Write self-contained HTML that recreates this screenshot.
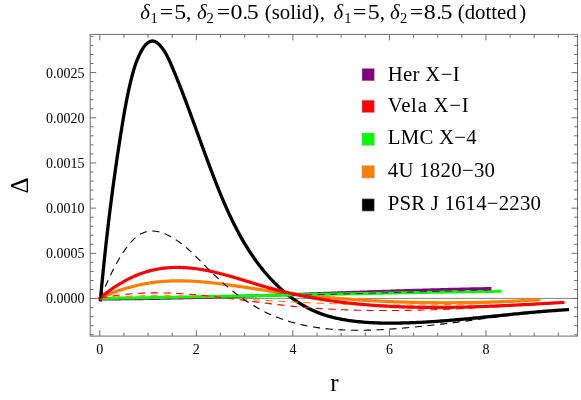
<!DOCTYPE html>
<html><head><meta charset="utf-8"><title>plot</title>
<style>html,body{margin:0;padding:0;background:#fff}svg{display:block;will-change:transform}</style></head>
<body>
<svg width="581" height="400" viewBox="0 0 581 400">
<rect width="581" height="400" fill="#fff"/>
<line x1="90.2" y1="298.4" x2="577.5" y2="298.4" stroke="#5a5a5a" stroke-width="0.75"/>
<path d="M100.30 301.40 L100.48 299.41 L100.66 297.41 L100.84 295.42 L101.03 293.43 L101.21 291.44 L101.40 289.44 L101.58 287.45 L101.77 285.46 L101.96 283.47 L102.15 281.48 L102.35 279.48 L102.54 277.49 L102.74 275.50 L102.93 273.51 L103.13 271.52 L103.33 269.53 L103.54 267.54 L103.74 265.55 L103.94 263.56 L104.15 261.57 L104.36 259.58 L104.57 257.59 L104.78 255.60 L104.99 253.61 L105.20 251.62 L105.42 249.63 L105.64 247.64 L105.85 245.65 L106.07 243.66 L106.29 241.67 L106.52 239.68 L106.74 237.69 L106.97 235.71 L107.20 233.72 L107.42 231.73 L107.66 229.74 L107.89 227.76 L108.12 225.77 L108.36 223.78 L108.59 221.79 L108.83 219.81 L109.07 217.82 L109.31 215.83 L109.56 213.85 L109.80 211.86 L110.05 209.88 L110.30 207.89 L110.55 205.91 L110.80 203.92 L111.05 201.94 L111.31 199.95 L111.57 197.97 L111.82 195.98 L112.08 194.00 L112.35 192.01 L112.61 190.03 L112.87 188.05 L113.14 186.06 L113.41 184.08 L113.68 182.10 L113.95 180.12 L114.22 178.13 L114.50 176.15 L114.78 174.17 L115.06 172.19 L115.34 170.21 L115.62 168.23 L115.90 166.25 L116.19 164.27 L116.48 162.28 L116.77 160.30 L117.06 158.33 L117.35 156.35 L117.64 154.37 L117.94 152.39 L118.24 150.41 L118.54 148.43 L118.84 146.45 L119.14 144.47 L119.45 142.50 L119.76 140.52 L120.06 138.54 L120.37 136.57 L120.69 134.59 L121.00 132.61 L121.32 130.64 L121.64 128.66 L121.96 126.69 L122.28 124.71 L122.60 122.74 L122.93 120.76 L123.26 118.79 L123.59 116.82 L123.93 114.84 L124.27 112.87 L124.62 110.90 L124.97 108.93 L125.33 106.96 L125.70 105.00 L126.07 103.03 L126.44 101.06 L126.83 99.10 L127.22 97.14 L127.62 95.18 L128.03 93.22 L128.44 91.26 L128.87 89.31 L129.31 87.35 L129.75 85.40 L130.21 83.45 L130.67 81.51 L131.15 79.56 L131.64 77.62 L132.14 75.69 L132.66 73.76 L133.20 71.83 L133.76 69.91 L134.34 67.99 L134.96 66.09 L135.60 64.19 L136.28 62.31 L136.99 60.44 L137.74 58.59 L138.53 56.75 L139.37 54.93 L140.24 53.13 L141.16 51.35 L142.14 49.61 L143.18 47.90 L144.34 46.27 L145.63 44.74 L147.08 43.36 L148.70 42.19 L150.49 41.31 L152.45 40.95 L154.42 41.28 L156.22 42.14 L157.82 43.33 L159.27 44.71 L160.63 46.18 L161.91 47.72 L163.11 49.32 L164.24 50.97 L165.30 52.67 L166.29 54.41 L167.24 56.17 L168.13 57.96 L168.99 59.77 L169.81 61.59 L170.62 63.42 L171.41 65.26 L172.19 67.10 L172.97 68.95 L173.75 70.79 L174.52 72.64 L175.28 74.49 L176.04 76.34 L176.79 78.19 L177.54 80.05 L178.29 81.91 L179.03 83.76 L179.76 85.63 L180.49 87.49 L181.22 89.35 L181.95 91.22 L182.67 93.08 L183.39 94.95 L184.10 96.82 L184.81 98.69 L185.52 100.56 L186.22 102.44 L186.93 104.31 L187.62 106.18 L188.32 108.06 L189.02 109.94 L189.71 111.81 L190.40 113.69 L191.09 115.57 L191.78 117.45 L192.47 119.33 L193.15 121.21 L193.84 123.09 L194.52 124.97 L195.20 126.85 L195.88 128.73 L196.56 130.61 L197.24 132.49 L197.92 134.38 L198.61 136.26 L199.29 138.14 L199.97 140.02 L200.65 141.90 L201.33 143.78 L202.01 145.66 L202.70 147.55 L203.38 149.43 L204.07 151.30 L204.76 153.18 L205.45 155.06 L206.14 156.94 L206.83 158.82 L207.53 160.69 L208.22 162.57 L208.92 164.44 L209.62 166.32 L210.33 168.19 L211.03 170.06 L211.75 171.93 L212.46 173.80 L213.17 175.67 L213.89 177.54 L214.62 179.40 L215.35 181.27 L216.08 183.13 L216.81 184.99 L217.55 186.85 L218.30 188.71 L219.05 190.56 L219.80 192.42 L220.56 194.27 L221.33 196.12 L222.10 197.96 L222.88 199.81 L223.66 201.65 L224.46 203.48 L225.26 205.32 L226.06 207.15 L226.88 208.98 L227.70 210.80 L228.53 212.62 L229.37 214.44 L230.22 216.25 L231.08 218.06 L231.95 219.86 L232.82 221.66 L233.71 223.45 L234.61 225.24 L235.52 227.02 L236.43 228.80 L237.36 230.57 L238.31 232.34 L239.26 234.10 L240.22 235.85 L241.20 237.60 L242.19 239.34 L243.19 241.07 L244.20 242.80 L245.23 244.51 L246.27 246.22 L247.33 247.92 L248.39 249.62 L249.47 251.30 L250.57 252.97 L251.68 254.64 L252.81 256.29 L253.95 257.94 L255.10 259.57 L256.27 261.19 L257.46 262.81 L258.66 264.41 L259.87 266.00 L261.11 267.57 L262.35 269.14 L263.62 270.69 L264.90 272.23 L266.19 273.75 L267.51 275.26 L268.83 276.76 L270.18 278.24 L271.54 279.70 L272.92 281.15 L274.32 282.59 L275.73 284.01 L277.16 285.41 L278.61 286.79 L280.07 288.15 L281.55 289.50 L283.05 290.82 L284.57 292.13 L286.10 293.41 L287.66 294.67 L289.23 295.91 L290.81 297.13 L292.42 298.32 L294.04 299.49 L295.69 300.64 L297.34 301.76 L299.02 302.85 L300.72 303.91 L302.43 304.95 L304.16 305.96 L305.90 306.93 L307.66 307.88 L309.44 308.80 L311.24 309.68 L313.05 310.53 L314.88 311.35 L316.72 312.13 L318.58 312.88 L320.45 313.59 L322.33 314.26 L324.22 314.90 L326.13 315.51 L328.05 316.08 L329.97 316.63 L331.91 317.14 L333.85 317.62 L335.80 318.08 L337.75 318.51 L339.71 318.91 L341.68 319.29 L343.65 319.64 L345.62 319.97 L347.60 320.28 L349.58 320.57 L351.56 320.84 L353.55 321.10 L355.53 321.33 L357.52 321.55 L359.51 321.75 L361.50 321.94 L363.50 322.11 L365.49 322.27 L367.49 322.41 L369.49 322.54 L371.48 322.65 L373.48 322.75 L375.48 322.84 L377.48 322.92 L379.48 322.98 L381.48 323.03 L383.48 323.07 L385.48 323.10 L387.48 323.12 L389.48 323.14 L391.49 323.14 L393.49 323.13 L395.49 323.11 L397.49 323.09 L399.49 323.06 L401.49 323.02 L403.49 322.97 L405.49 322.92 L407.49 322.86 L409.49 322.80 L411.49 322.72 L413.49 322.65 L415.49 322.56 L417.49 322.47 L419.49 322.38 L421.48 322.28 L423.48 322.17 L425.48 322.06 L427.48 321.94 L429.48 321.82 L431.47 321.70 L433.47 321.56 L435.47 321.43 L437.46 321.29 L439.46 321.14 L441.45 321.00 L443.45 320.84 L445.44 320.69 L447.44 320.53 L449.43 320.37 L451.43 320.20 L453.42 320.03 L455.41 319.86 L457.41 319.68 L459.40 319.50 L461.39 319.32 L463.39 319.14 L465.38 318.95 L467.37 318.77 L469.36 318.58 L471.35 318.39 L473.35 318.19 L475.34 318.00 L477.33 317.80 L479.32 317.60 L481.31 317.40 L483.30 317.20 L485.29 317.00 L487.28 316.80 L489.27 316.60 L491.26 316.39 L493.26 316.19 L495.25 315.99 L497.24 315.78 L499.23 315.58 L501.22 315.38 L503.21 315.17 L505.20 314.97 L507.19 314.77 L509.18 314.57 L511.17 314.37 L513.16 314.17 L515.15 313.97 L517.15 313.77 L519.14 313.58 L521.13 313.38 L523.12 313.19 L525.11 313.00 L527.10 312.82 L529.10 312.63 L531.09 312.45 L533.08 312.27 L535.08 312.09 L537.07 311.91 L539.06 311.74 L541.06 311.57 L543.05 311.40 L545.04 311.24 L547.04 311.08 L549.03 310.93 L551.03 310.77 L553.02 310.63 L555.02 310.48 L557.02 310.34 L559.01 310.21 L561.01 310.08 L563.01 309.95 L565.00 309.83 L567.00 309.71 L569.00 309.60" fill="none" stroke="#000" stroke-width="3.3" stroke-linecap="butt" stroke-linejoin="round"/>
<path d="M100.00 298.20 L101.82 297.36 L103.64 296.55 L105.48 295.75 L107.32 294.97 L109.17 294.21 L111.03 293.47 L112.90 292.75 L114.77 292.05 L116.66 291.37 L118.54 290.71 L120.44 290.08 L122.34 289.46 L124.25 288.86 L126.17 288.28 L128.09 287.72 L130.02 287.19 L131.95 286.67 L133.89 286.18 L135.83 285.70 L137.78 285.25 L139.74 284.82 L141.70 284.41 L143.66 284.03 L145.63 283.66 L147.60 283.32 L149.57 283.00 L151.55 282.70 L153.53 282.42 L155.52 282.17 L157.51 281.94 L159.50 281.74 L161.49 281.55 L163.48 281.39 L165.48 281.25 L167.48 281.13 L169.48 281.03 L171.48 280.95 L173.48 280.89 L175.48 280.85 L177.48 280.83 L179.48 280.83 L181.48 280.84 L183.48 280.87 L185.48 280.92 L187.48 280.98 L189.48 281.06 L191.48 281.15 L193.48 281.26 L195.47 281.38 L197.47 281.51 L199.47 281.66 L201.46 281.82 L203.45 281.99 L205.45 282.17 L207.44 282.36 L209.43 282.56 L211.42 282.78 L213.41 283.00 L215.40 283.22 L217.38 283.46 L219.37 283.71 L221.35 283.96 L223.34 284.22 L225.32 284.48 L227.30 284.75 L229.29 285.02 L231.27 285.30 L233.25 285.58 L235.23 285.87 L237.21 286.16 L239.19 286.45 L241.17 286.74 L243.15 287.04 L245.13 287.33 L247.10 287.63 L249.08 287.93 L251.06 288.22 L253.04 288.52 L255.02 288.81 L257.00 289.11 L258.98 289.40 L260.96 289.69 L262.94 289.97 L264.92 290.25 L266.90 290.53 L268.88 290.80 L270.87 291.08 L272.85 291.34 L274.83 291.61 L276.82 291.87 L278.80 292.13 L280.79 292.39 L282.77 292.64 L284.76 292.89 L286.74 293.13 L288.73 293.38 L290.71 293.62 L292.70 293.85 L294.69 294.09 L296.68 294.32 L298.66 294.55 L300.65 294.77 L302.64 294.99 L304.63 295.21 L306.62 295.42 L308.61 295.64 L310.60 295.84 L312.59 296.05 L314.58 296.25 L316.57 296.45 L318.56 296.65 L320.55 296.84 L322.55 297.03 L324.54 297.21 L326.53 297.40 L328.52 297.58 L330.52 297.76 L332.51 297.93 L334.50 298.10 L336.50 298.27 L338.49 298.43 L340.49 298.59 L342.48 298.75 L344.48 298.91 L346.47 299.06 L348.47 299.21 L350.46 299.35 L352.46 299.50 L354.45 299.64 L356.45 299.77 L358.45 299.91 L360.44 300.04 L362.44 300.16 L364.44 300.29 L366.44 300.41 L368.43 300.53 L370.43 300.64 L372.43 300.76 L374.43 300.86 L376.42 300.97 L378.42 301.07 L380.42 301.17 L382.42 301.27 L384.42 301.36 L386.42 301.45 L388.42 301.54 L390.42 301.63 L392.41 301.71 L394.41 301.79 L396.41 301.86 L398.41 301.93 L400.41 302.00 L402.41 302.07 L404.41 302.13 L406.41 302.19 L408.41 302.25 L410.41 302.30 L412.41 302.35 L414.41 302.40 L416.41 302.45 L418.42 302.49 L420.42 302.53 L422.42 302.57 L424.42 302.60 L426.42 302.63 L428.42 302.66 L430.42 302.68 L432.42 302.70 L434.42 302.72 L436.42 302.74 L438.42 302.75 L440.42 302.76 L442.42 302.77 L444.43 302.77 L446.43 302.77 L448.43 302.77 L450.43 302.76 L452.43 302.76 L454.43 302.75 L456.43 302.73 L458.43 302.72 L460.43 302.70 L462.43 302.67 L464.43 302.65 L466.44 302.62 L468.44 302.59 L470.44 302.55 L472.44 302.52 L474.44 302.48 L476.44 302.44 L478.44 302.39 L480.44 302.34 L482.44 302.29 L484.44 302.24 L486.44 302.18 L488.44 302.12 L490.44 302.06 L492.44 301.99 L494.44 301.93 L496.44 301.85 L498.44 301.78 L500.44 301.70 L502.44 301.63 L504.44 301.54 L506.44 301.46 L508.44 301.37 L510.43 301.28 L512.43 301.19 L514.43 301.09 L516.43 300.99 L518.43 300.89 L520.43 300.79 L522.42 300.68 L524.42 300.57 L526.42 300.46 L528.42 300.34 L530.42 300.23 L532.41 300.11 L534.41 299.98 L536.41 299.86 L538.40 299.73 L540.40 299.60" fill="none" stroke="#ff8000" stroke-width="3.2" stroke-linecap="butt" stroke-linejoin="round"/>
<path d="M100.00 299.00 L102.01 298.99 L104.02 298.99 L106.02 298.98 L108.03 298.97 L110.04 298.96 L112.05 298.95 L114.06 298.93 L116.06 298.92 L118.07 298.90 L120.08 298.89 L122.09 298.87 L124.10 298.85 L126.10 298.83 L128.11 298.81 L130.12 298.79 L132.13 298.77 L134.13 298.74 L136.14 298.72 L138.15 298.69 L140.16 298.66 L142.17 298.64 L144.17 298.61 L146.18 298.58 L148.19 298.55 L150.20 298.52 L152.20 298.48 L154.21 298.45 L156.22 298.41 L158.23 298.38 L160.24 298.34 L162.24 298.31 L164.25 298.27 L166.26 298.23 L168.27 298.19 L170.27 298.15 L172.28 298.11 L174.29 298.06 L176.30 298.02 L178.30 297.98 L180.31 297.93 L182.32 297.89 L184.33 297.84 L186.33 297.79 L188.34 297.75 L190.35 297.70 L192.36 297.65 L194.36 297.60 L196.37 297.55 L198.38 297.50 L200.38 297.44 L202.39 297.39 L204.40 297.34 L206.41 297.28 L208.41 297.23 L210.42 297.18 L212.43 297.12 L214.44 297.06 L216.44 297.01 L218.45 296.95 L220.46 296.89 L222.46 296.83 L224.47 296.77 L226.48 296.71 L228.49 296.65 L230.49 296.59 L232.50 296.53 L234.51 296.47 L236.51 296.41 L238.52 296.34 L240.53 296.28 L242.53 296.22 L244.54 296.15 L246.55 296.09 L248.56 296.03 L250.56 295.96 L252.57 295.89 L254.58 295.83 L256.58 295.76 L258.59 295.70 L260.60 295.63 L262.60 295.56 L264.61 295.49 L266.62 295.43 L268.62 295.36 L270.63 295.29 L272.64 295.22 L274.64 295.15 L276.65 295.08 L278.66 295.01 L280.66 294.94 L282.67 294.87 L284.68 294.80 L286.68 294.73 L288.69 294.66 L290.70 294.59 L292.70 294.52 L294.71 294.45 L296.72 294.38 L298.72 294.31 L300.73 294.23 L302.74 294.16 L304.75 294.09 L306.75 294.02 L308.76 293.95 L310.77 293.87 L312.77 293.80 L314.78 293.73 L316.79 293.66 L318.79 293.59 L320.80 293.51 L322.81 293.44 L324.81 293.37 L326.82 293.30 L328.83 293.23 L330.83 293.15 L332.84 293.08 L334.85 293.01 L336.85 292.94 L338.86 292.87 L340.87 292.79 L342.87 292.72 L344.88 292.65 L346.89 292.58 L348.89 292.51 L350.90 292.44 L352.91 292.37 L354.91 292.30 L356.92 292.23 L358.93 292.16 L360.93 292.09 L362.94 292.02 L364.95 291.95 L366.95 291.88 L368.96 291.81 L370.97 291.74 L372.97 291.67 L374.98 291.60 L376.99 291.53 L378.99 291.47 L381.00 291.40 L383.01 291.33 L385.01 291.26 L387.02 291.20 L389.03 291.13 L391.04 291.07 L393.04 291.00 L395.05 290.94 L397.06 290.87 L399.06 290.81 L401.07 290.74 L403.08 290.68 L405.08 290.62 L407.09 290.56 L409.10 290.49 L411.10 290.43 L413.11 290.37 L415.12 290.31 L417.13 290.25 L419.13 290.19 L421.14 290.13 L423.15 290.07 L425.15 290.02 L427.16 289.96 L429.17 289.90 L431.18 289.85 L433.18 289.79 L435.19 289.74 L437.20 289.68 L439.21 289.63 L441.21 289.58 L443.22 289.53 L445.23 289.47 L447.23 289.42 L449.24 289.37 L451.25 289.32 L453.26 289.27 L455.26 289.23 L457.27 289.18 L459.28 289.13 L461.29 289.09 L463.29 289.04 L465.30 289.00 L467.31 288.96 L469.32 288.91 L471.32 288.87 L473.33 288.83 L475.34 288.79 L477.35 288.75 L479.35 288.71 L481.36 288.67 L483.37 288.64 L485.38 288.60 L487.38 288.57 L489.39 288.53 L491.40 288.50" fill="none" stroke="#800080" stroke-width="3.0" stroke-linecap="butt" stroke-linejoin="round"/>
<path d="M100.00 298.40 L102.01 298.37 L104.01 298.34 L106.02 298.31 L108.03 298.29 L110.04 298.26 L112.04 298.23 L114.05 298.20 L116.06 298.17 L118.06 298.14 L120.07 298.11 L122.08 298.07 L124.09 298.04 L126.09 298.01 L128.10 297.98 L130.11 297.95 L132.11 297.92 L134.12 297.89 L136.13 297.85 L138.13 297.82 L140.14 297.79 L142.15 297.75 L144.16 297.72 L146.16 297.69 L148.17 297.65 L150.18 297.62 L152.18 297.59 L154.19 297.55 L156.20 297.52 L158.21 297.48 L160.21 297.45 L162.22 297.41 L164.23 297.38 L166.23 297.34 L168.24 297.31 L170.25 297.27 L172.25 297.24 L174.26 297.20 L176.27 297.17 L178.28 297.13 L180.28 297.09 L182.29 297.06 L184.30 297.02 L186.30 296.98 L188.31 296.95 L190.32 296.91 L192.32 296.87 L194.33 296.84 L196.34 296.80 L198.34 296.76 L200.35 296.72 L202.36 296.69 L204.37 296.65 L206.37 296.61 L208.38 296.57 L210.39 296.53 L212.39 296.50 L214.40 296.46 L216.41 296.42 L218.41 296.38 L220.42 296.34 L222.43 296.30 L224.44 296.26 L226.44 296.23 L228.45 296.19 L230.46 296.15 L232.46 296.11 L234.47 296.07 L236.48 296.03 L238.48 295.99 L240.49 295.95 L242.50 295.91 L244.50 295.87 L246.51 295.83 L248.52 295.79 L250.53 295.75 L252.53 295.71 L254.54 295.67 L256.55 295.63 L258.55 295.59 L260.56 295.55 L262.57 295.51 L264.57 295.47 L266.58 295.43 L268.59 295.39 L270.59 295.35 L272.60 295.31 L274.61 295.27 L276.62 295.23 L278.62 295.19 L280.63 295.15 L282.64 295.11 L284.64 295.07 L286.65 295.03 L288.66 294.99 L290.66 294.95 L292.67 294.91 L294.68 294.87 L296.68 294.83 L298.69 294.79 L300.70 294.75 L302.71 294.71 L304.71 294.67 L306.72 294.63 L308.73 294.59 L310.73 294.55 L312.74 294.51 L314.75 294.47 L316.75 294.43 L318.76 294.39 L320.77 294.35 L322.77 294.31 L324.78 294.27 L326.79 294.23 L328.80 294.19 L330.80 294.15 L332.81 294.11 L334.82 294.07 L336.82 294.03 L338.83 294.00 L340.84 293.96 L342.84 293.92 L344.85 293.88 L346.86 293.84 L348.86 293.80 L350.87 293.76 L352.88 293.72 L354.89 293.68 L356.89 293.65 L358.90 293.61 L360.91 293.57 L362.91 293.53 L364.92 293.49 L366.93 293.45 L368.93 293.42 L370.94 293.38 L372.95 293.34 L374.96 293.30 L376.96 293.27 L378.97 293.23 L380.98 293.19 L382.98 293.15 L384.99 293.12 L387.00 293.08 L389.00 293.04 L391.01 293.01 L393.02 292.97 L395.02 292.93 L397.03 292.90 L399.04 292.86 L401.05 292.83 L403.05 292.79 L405.06 292.76 L407.07 292.72 L409.07 292.69 L411.08 292.65 L413.09 292.62 L415.09 292.58 L417.10 292.55 L419.11 292.51 L421.12 292.48 L423.12 292.45 L425.13 292.41 L427.14 292.38 L429.14 292.34 L431.15 292.31 L433.16 292.28 L435.17 292.25 L437.17 292.21 L439.18 292.18 L441.19 292.15 L443.19 292.12 L445.20 292.09 L447.21 292.05 L449.21 292.02 L451.22 291.99 L453.23 291.96 L455.24 291.93 L457.24 291.90 L459.25 291.87 L461.26 291.84 L463.26 291.81 L465.27 291.78 L467.28 291.75 L469.29 291.72 L471.29 291.70 L473.30 291.67 L475.31 291.64 L477.31 291.61 L479.32 291.58 L481.33 291.56 L483.34 291.53 L485.34 291.50 L487.35 291.48 L489.36 291.45 L491.36 291.43 L493.37 291.40 L495.38 291.37 L497.39 291.35 L499.39 291.32 L501.40 291.30" fill="none" stroke="#00ff00" stroke-width="3.0" stroke-linecap="butt" stroke-linejoin="round"/>
<path d="M100.00 298.20 L102.00 298.01 L103.99 297.84 L105.99 297.67 L107.99 297.51 L109.98 297.36 L111.98 297.21 L113.98 297.08 L115.98 296.95 L117.98 296.82 L119.98 296.71 L121.98 296.60 L123.98 296.50 L125.98 296.41 L127.99 296.32 L129.99 296.24 L131.99 296.16 L133.99 296.09 L136.00 296.03 L138.00 295.98 L140.00 295.93 L142.01 295.89 L144.01 295.85 L146.01 295.82 L148.02 295.79 L150.02 295.77 L152.02 295.76 L154.03 295.75 L156.03 295.74 L158.04 295.75 L160.04 295.75 L162.04 295.76 L164.05 295.78 L166.05 295.80 L168.05 295.83 L170.06 295.86 L172.06 295.89 L174.06 295.93 L176.07 295.97 L178.07 296.02 L180.07 296.07 L182.08 296.13 L184.08 296.18 L186.08 296.25 L188.09 296.31 L190.09 296.38 L192.09 296.46 L194.09 296.53 L196.10 296.61 L198.10 296.69 L200.10 296.78 L202.10 296.87 L204.10 296.96 L206.10 297.05 L208.11 297.14 L210.11 297.24 L212.11 297.34 L214.11 297.44 L216.11 297.55 L218.11 297.65 L220.11 297.76 L222.11 297.87 L224.11 297.98 L226.12 298.10 L228.12 298.21 L230.12 298.33 L232.12 298.44 L234.12 298.56 L236.12 298.68 L238.12 298.80 L240.12 298.92 L242.12 299.04 L244.12 299.16 L246.12 299.28 L248.12 299.40 L250.12 299.53 L252.12 299.65 L254.12 299.77 L256.12 299.89 L258.12 300.01 L260.12 300.14 L262.12 300.26 L264.12 300.38 L266.12 300.50 L268.12 300.62 L270.12 300.73 L272.12 300.85 L274.12 300.97 L276.12 301.08 L278.12 301.20 L280.12 301.31 L282.12 301.42 L284.12 301.53 L286.12 301.64 L288.13 301.74 L290.13 301.85 L292.13 301.95 L294.13 302.05 L296.13 302.15 L298.13 302.25 L300.13 302.35 L302.13 302.45 L304.14 302.54 L306.14 302.63 L308.14 302.73 L310.14 302.82 L312.14 302.90 L314.14 302.99 L316.15 303.08 L318.15 303.16 L320.15 303.24 L322.15 303.32 L324.15 303.40 L326.16 303.48 L328.16 303.55 L330.16 303.63 L332.16 303.70 L334.17 303.77 L336.17 303.84 L338.17 303.90 L340.18 303.97 L342.18 304.03 L344.18 304.09 L346.18 304.15 L348.19 304.21 L350.19 304.27 L352.19 304.32 L354.20 304.37 L356.20 304.42 L358.20 304.47 L360.21 304.52 L362.21 304.56 L364.21 304.61 L366.22 304.65 L368.22 304.69 L370.22 304.73 L372.23 304.76 L374.23 304.79 L376.23 304.83 L378.24 304.86 L380.24 304.88 L382.24 304.91 L384.25 304.93 L386.25 304.96 L388.25 304.98 L390.26 304.99 L392.26 305.01 L394.27 305.02 L396.27 305.03 L398.27 305.04 L400.28 305.05 L402.28 305.06 L404.28 305.06 L406.29 305.06 L408.29 305.06 L410.30 305.06 L412.30 305.05 L414.30 305.05 L416.31 305.04 L418.31 305.03 L420.31 305.01 L422.32 305.00 L424.32 304.98 L426.33 304.96 L428.33 304.94 L430.33 304.91 L432.34 304.88 L434.34 304.86 L436.34 304.82 L438.35 304.79 L440.35 304.75 L442.35 304.72 L444.36 304.67 L446.36 304.63 L448.36 304.59 L450.37 304.54 L452.37 304.49 L454.37 304.44 L456.38 304.38 L458.38 304.32 L460.38 304.27 L462.39 304.20 L464.39 304.14 L466.39 304.07 L468.39 304.00 L470.40 303.93 L472.40 303.86 L474.40 303.78 L476.40 303.70 L478.40 303.62 L480.41 303.54 L482.41 303.45 L484.41 303.36 L486.41 303.27 L488.41 303.17 L490.42 303.08 L492.42 302.98 L494.42 302.88 L496.42 302.77 L498.42 302.66 L500.42 302.55 L502.42 302.44 L504.42 302.33 L506.42 302.21 L508.42 302.09 L510.42 301.97 L512.42 301.84 L514.42 301.71 L516.42 301.58 L518.42 301.45 L520.42 301.31 L522.42 301.17 L524.42 301.03 L526.42 300.89 L528.41 300.74 L530.41 300.59 L532.41 300.44 L534.41 300.28 L536.41 300.12 L538.40 299.96 L540.40 299.80" fill="none" stroke="#ff8000" stroke-width="1.1" stroke-linecap="butt" stroke-linejoin="round" stroke-dasharray="7.2 5.55"/>
<path d="M292.00 295.20 L294.01 295.16 L296.03 295.12 L298.04 295.08 L300.06 295.03 L302.07 294.99 L304.09 294.95 L306.10 294.90 L308.12 294.86 L310.13 294.81 L312.14 294.77 L314.16 294.72 L316.17 294.67 L318.19 294.63 L320.20 294.58 L322.22 294.53 L324.23 294.48 L326.24 294.43 L328.26 294.38 L330.27 294.33 L332.29 294.28 L334.30 294.23 L336.31 294.17 L338.33 294.12 L340.34 294.07 L342.36 294.01 L344.37 293.96 L346.39 293.91 L348.40 293.85 L350.41 293.80 L352.43 293.74 L354.44 293.69 L356.46 293.63 L358.47 293.58 L360.48 293.52 L362.50 293.46 L364.51 293.41 L366.53 293.35 L368.54 293.29 L370.55 293.24 L372.57 293.18 L374.58 293.12 L376.60 293.06 L378.61 293.01 L380.62 292.95 L382.64 292.89 L384.65 292.83 L386.67 292.77 L388.68 292.72 L390.69 292.66 L392.71 292.60 L394.72 292.54 L396.74 292.48 L398.75 292.42 L400.76 292.37 L402.78 292.31 L404.79 292.25 L406.81 292.19 L408.82 292.13 L410.83 292.08 L412.85 292.02 L414.86 291.96 L416.88 291.90 L418.89 291.85 L420.90 291.79 L422.92 291.73 L424.93 291.67 L426.95 291.62 L428.96 291.56 L430.97 291.50 L432.99 291.45 L435.00 291.39 L437.02 291.34 L439.03 291.28 L441.04 291.23 L443.06 291.17 L445.07 291.12 L447.09 291.07 L449.10 291.01 L451.11 290.96 L453.13 290.91 L455.14 290.85 L457.16 290.80 L459.17 290.75 L461.19 290.70 L463.20 290.65 L465.21 290.60 L467.23 290.55 L469.24 290.50 L471.26 290.45 L473.27 290.41 L475.29 290.36 L477.30 290.31 L479.31 290.26 L481.33 290.22 L483.34 290.17 L485.36 290.13 L487.37 290.09 L489.39 290.04 L491.40 290.00" fill="none" stroke="#700070" stroke-width="1.0" stroke-linecap="butt" stroke-linejoin="round" stroke-dasharray="7.2 5.55"/>
<path d="M100.00 298.20 L101.53 296.91 L103.07 295.63 L104.63 294.37 L106.20 293.13 L107.79 291.92 L109.40 290.72 L111.02 289.55 L112.66 288.40 L114.32 287.28 L115.99 286.18 L117.68 285.10 L119.38 284.05 L121.10 283.02 L122.84 282.02 L124.59 281.05 L126.35 280.10 L128.13 279.18 L129.93 278.29 L131.74 277.43 L133.56 276.60 L135.39 275.80 L137.24 275.04 L139.11 274.30 L140.98 273.60 L142.87 272.94 L144.77 272.31 L146.69 271.71 L148.61 271.16 L150.54 270.64 L152.49 270.16 L154.44 269.72 L156.40 269.32 L158.37 268.96 L160.35 268.64 L162.33 268.36 L164.32 268.12 L166.31 267.91 L168.31 267.74 L170.31 267.61 L172.31 267.51 L174.31 267.45 L176.31 267.42 L178.31 267.43 L180.31 267.46 L182.32 267.53 L184.32 267.62 L186.31 267.74 L188.31 267.90 L190.31 268.07 L192.30 268.28 L194.29 268.51 L196.27 268.76 L198.26 269.04 L200.24 269.34 L202.21 269.67 L204.18 270.01 L206.15 270.38 L208.12 270.76 L210.08 271.17 L212.04 271.59 L213.99 272.03 L215.94 272.49 L217.89 272.96 L219.83 273.44 L221.77 273.94 L223.71 274.45 L225.64 274.98 L227.57 275.51 L229.50 276.05 L231.42 276.60 L233.34 277.16 L235.27 277.73 L237.18 278.30 L239.10 278.88 L241.02 279.46 L242.93 280.04 L244.85 280.63 L246.76 281.22 L248.68 281.81 L250.59 282.40 L252.50 282.98 L254.42 283.57 L256.33 284.15 L258.25 284.73 L260.17 285.31 L262.09 285.88 L264.01 286.44 L265.93 287.00 L267.86 287.55 L269.79 288.09 L271.72 288.62 L273.65 289.14 L275.59 289.66 L277.52 290.16 L279.46 290.66 L281.41 291.15 L283.35 291.63 L285.30 292.10 L287.25 292.56 L289.20 293.02 L291.15 293.46 L293.10 293.90 L295.06 294.33 L297.02 294.75 L298.98 295.16 L300.94 295.57 L302.90 295.97 L304.86 296.35 L306.83 296.74 L308.80 297.11 L310.77 297.47 L312.74 297.83 L314.71 298.18 L316.68 298.52 L318.66 298.86 L320.63 299.19 L322.61 299.50 L324.59 299.82 L326.56 300.12 L328.55 300.42 L330.53 300.71 L332.51 300.99 L334.49 301.27 L336.48 301.54 L338.46 301.80 L340.45 302.05 L342.44 302.30 L344.42 302.54 L346.41 302.78 L348.40 303.01 L350.39 303.23 L352.38 303.44 L354.37 303.65 L356.37 303.85 L358.36 304.05 L360.35 304.24 L362.35 304.42 L364.34 304.60 L366.34 304.77 L368.33 304.93 L370.33 305.09 L372.33 305.24 L374.32 305.39 L376.32 305.53 L378.32 305.67 L380.32 305.80 L382.32 305.92 L384.31 306.04 L386.31 306.15 L388.31 306.26 L390.31 306.36 L392.31 306.46 L394.31 306.55 L396.31 306.64 L398.32 306.72 L400.32 306.80 L402.32 306.87 L404.32 306.94 L406.32 307.00 L408.32 307.06 L410.32 307.11 L412.33 307.16 L414.33 307.21 L416.33 307.25 L418.33 307.28 L420.33 307.31 L422.34 307.34 L424.34 307.36 L426.34 307.38 L428.34 307.40 L430.35 307.41 L432.35 307.41 L434.35 307.42 L436.35 307.42 L438.36 307.41 L440.36 307.40 L442.36 307.39 L444.36 307.38 L446.37 307.36 L448.37 307.33 L450.37 307.31 L452.37 307.28 L454.38 307.25 L456.38 307.21 L458.38 307.17 L460.38 307.13 L462.38 307.09 L464.39 307.04 L466.39 306.99 L468.39 306.94 L470.39 306.88 L472.39 306.83 L474.39 306.76 L476.40 306.70 L478.40 306.64 L480.40 306.57 L482.40 306.50 L484.40 306.43 L486.40 306.35 L488.40 306.27 L490.40 306.19 L492.41 306.11 L494.41 306.03 L496.41 305.95 L498.41 305.86 L500.41 305.77 L502.41 305.68 L504.41 305.59 L506.41 305.50 L508.41 305.40 L510.41 305.31 L512.41 305.21 L514.41 305.11 L516.41 305.01 L518.41 304.91 L520.41 304.81 L522.41 304.70 L524.41 304.60 L526.41 304.49 L528.41 304.39 L530.41 304.28 L532.41 304.17 L534.41 304.06 L536.41 303.96 L538.41 303.85 L540.41 303.74 L542.41 303.63 L544.41 303.51 L546.40 303.40 L548.40 303.29 L550.40 303.18 L552.40 303.07 L554.40 302.96 L556.40 302.84 L558.40 302.73 L560.40 302.62 L562.40 302.51 L564.40 302.40" fill="none" stroke="#ff0000" stroke-width="3.2" stroke-linecap="butt" stroke-linejoin="round"/>
<path d="M100.00 298.20 L101.97 297.80 L103.94 297.42 L105.91 297.06 L107.89 296.71 L109.87 296.38 L111.86 296.06 L113.84 295.77 L115.83 295.48 L117.82 295.22 L119.81 294.96 L121.80 294.73 L123.80 294.51 L125.80 294.30 L127.80 294.11 L129.80 293.93 L131.80 293.77 L133.80 293.62 L135.80 293.49 L137.81 293.37 L139.81 293.26 L141.82 293.17 L143.83 293.09 L145.83 293.02 L147.84 292.96 L149.85 292.92 L151.85 292.89 L153.86 292.87 L155.87 292.87 L157.88 292.87 L159.89 292.89 L161.89 292.91 L163.90 292.95 L165.91 293.00 L167.92 293.06 L169.92 293.13 L171.93 293.20 L173.94 293.29 L175.94 293.39 L177.95 293.49 L179.95 293.61 L181.96 293.73 L183.96 293.86 L185.96 294.00 L187.96 294.14 L189.97 294.30 L191.97 294.46 L193.97 294.63 L195.97 294.80 L197.97 294.98 L199.97 295.17 L201.97 295.36 L203.97 295.56 L205.96 295.76 L207.96 295.97 L209.96 296.19 L211.95 296.40 L213.95 296.63 L215.94 296.85 L217.94 297.08 L219.93 297.32 L221.93 297.56 L223.92 297.80 L225.91 298.04 L227.91 298.29 L229.90 298.54 L231.89 298.79 L233.88 299.04 L235.87 299.30 L237.87 299.55 L239.86 299.81 L241.85 300.07 L243.84 300.33 L245.83 300.59 L247.82 300.85 L249.81 301.11 L251.80 301.37 L253.79 301.63 L255.79 301.89 L257.78 302.14 L259.77 302.40 L261.76 302.66 L263.75 302.91 L265.74 303.16 L267.74 303.41 L269.73 303.66 L271.72 303.90 L273.72 304.14 L275.71 304.38 L277.70 304.62 L279.70 304.85 L281.69 305.08 L283.69 305.30 L285.68 305.52 L287.68 305.74 L289.68 305.95 L291.67 306.15 L293.67 306.35 L295.67 306.55 L297.67 306.74 L299.67 306.92 L301.67 307.10 L303.67 307.28 L305.67 307.45 L307.67 307.61 L309.67 307.77 L311.68 307.92 L313.68 308.07 L315.68 308.22 L317.68 308.36 L319.69 308.49 L321.69 308.62 L323.70 308.75 L325.70 308.87 L327.70 308.98 L329.71 309.10 L331.71 309.20 L333.72 309.31 L335.72 309.41 L337.73 309.50 L339.74 309.59 L341.74 309.67 L343.75 309.76 L345.76 309.83 L347.76 309.90 L349.77 309.97 L351.78 310.04 L353.78 310.10 L355.79 310.15 L357.80 310.21 L359.80 310.26 L361.81 310.30 L363.82 310.34 L365.83 310.38 L367.83 310.41 L369.84 310.44 L371.85 310.47 L373.86 310.49 L375.87 310.51 L377.87 310.52 L379.88 310.54 L381.89 310.54 L383.90 310.55 L385.91 310.55 L387.91 310.55 L389.92 310.54 L391.93 310.54 L393.94 310.52 L395.95 310.51 L397.95 310.49 L399.96 310.47 L401.97 310.45 L403.98 310.42 L405.98 310.39 L407.99 310.36 L410.00 310.32 L412.01 310.29 L414.01 310.24 L416.02 310.20 L418.03 310.15 L420.04 310.11 L422.04 310.05 L424.05 310.00 L426.06 309.94 L428.07 309.89 L430.07 309.82 L432.08 309.76 L434.09 309.69 L436.09 309.63 L438.10 309.56 L440.11 309.48 L442.11 309.41 L444.12 309.33 L446.13 309.25 L448.13 309.17 L450.14 309.09 L452.15 309.00 L454.15 308.92 L456.16 308.83 L458.16 308.74 L460.17 308.65 L462.17 308.55 L464.18 308.46 L466.19 308.36 L468.19 308.26 L470.20 308.16 L472.20 308.06 L474.21 307.96 L476.21 307.85 L478.22 307.75 L480.22 307.64 L482.23 307.53 L484.23 307.42 L486.24 307.31 L488.24 307.20 L490.25 307.08 L492.25 306.97 L494.26 306.85 L496.26 306.74 L498.27 306.62 L500.27 306.50 L502.27 306.38 L504.28 306.26 L506.28 306.14 L508.29 306.02 L510.29 305.90 L512.30 305.78 L514.30 305.65 L516.30 305.53 L518.31 305.41 L520.31 305.28 L522.32 305.16 L524.32 305.03 L526.32 304.90 L528.33 304.78 L530.33 304.65 L532.34 304.52 L534.34 304.40 L536.34 304.27 L538.35 304.14 L540.35 304.01 L542.36 303.89 L544.36 303.76 L546.36 303.63 L548.37 303.51 L550.37 303.38 L552.38 303.25 L554.38 303.13 L556.38 303.00 L558.39 302.87 L560.39 302.75 L562.40 302.62 L564.40 302.50" fill="none" stroke="#ff0000" stroke-width="1.1" stroke-linecap="butt" stroke-linejoin="round" stroke-dasharray="7.2 5.55"/>
<circle cx="99.9" cy="298.2" r="1.7" fill="#e00000"/>
<path d="M100.00 298.40 L100.83 296.57 L101.65 294.74 L102.47 292.91 L103.28 291.07 L104.10 289.24 L104.91 287.41 L105.73 285.58 L106.55 283.74 L107.38 281.92 L108.21 280.09 L109.05 278.27 L109.90 276.45 L110.76 274.64 L111.64 272.83 L112.52 271.03 L113.42 269.24 L114.34 267.45 L115.28 265.68 L116.23 263.91 L117.20 262.16 L118.20 260.41 L119.21 258.68 L120.25 256.96 L121.31 255.26 L122.39 253.57 L123.49 251.90 L124.62 250.24 L125.78 248.60 L126.97 246.98 L128.19 245.39 L129.46 243.83 L130.77 242.31 L132.12 240.83 L133.54 239.41 L135.01 238.04 L136.55 236.75 L138.15 235.55 L139.83 234.46 L141.59 233.48 L143.41 232.65 L145.30 231.98 L147.25 231.49 L149.23 231.18 L151.23 231.03 L153.24 231.04 L155.24 231.20 L157.22 231.49 L159.19 231.91 L161.12 232.44 L163.02 233.09 L164.89 233.82 L166.73 234.62 L168.53 235.50 L170.31 236.42 L172.07 237.40 L173.79 238.42 L175.50 239.48 L177.17 240.59 L178.82 241.73 L180.44 242.91 L182.04 244.12 L183.62 245.37 L185.17 246.64 L186.70 247.93 L188.21 249.25 L189.71 250.59 L191.19 251.95 L192.65 253.32 L194.10 254.71 L195.53 256.11 L196.96 257.52 L198.38 258.94 L199.80 260.37 L201.20 261.80 L202.61 263.23 L204.01 264.66 L205.42 266.09 L206.83 267.52 L208.24 268.95 L209.65 270.37 L211.08 271.78 L212.51 273.19 L213.95 274.59 L215.40 275.97 L216.86 277.35 L218.33 278.72 L219.81 280.08 L221.29 281.42 L222.79 282.76 L224.30 284.09 L225.82 285.40 L227.34 286.70 L228.88 287.99 L230.43 289.27 L231.99 290.53 L233.56 291.78 L235.14 293.02 L236.73 294.24 L238.33 295.44 L239.95 296.63 L241.58 297.81 L243.22 298.96 L244.87 300.10 L246.53 301.23 L248.21 302.33 L249.89 303.42 L251.59 304.49 L253.30 305.53 L255.03 306.56 L256.76 307.57 L258.51 308.55 L260.27 309.52 L262.05 310.46 L263.83 311.37 L265.63 312.27 L267.43 313.14 L269.25 313.98 L271.09 314.81 L272.93 315.60 L274.78 316.37 L276.64 317.12 L278.52 317.84 L280.40 318.53 L282.29 319.20 L284.19 319.85 L286.10 320.48 L288.01 321.08 L289.93 321.66 L291.86 322.22 L293.79 322.75 L295.73 323.27 L297.68 323.76 L299.63 324.23 L301.58 324.68 L303.54 325.11 L305.51 325.53 L307.47 325.92 L309.45 326.29 L311.42 326.64 L313.40 326.98 L315.38 327.30 L317.37 327.60 L319.35 327.88 L321.34 328.14 L323.33 328.39 L325.33 328.62 L327.32 328.83 L329.32 329.03 L331.32 329.21 L333.32 329.38 L335.32 329.53 L337.32 329.66 L339.32 329.78 L341.33 329.89 L343.33 329.98 L345.34 330.06 L347.34 330.13 L349.35 330.18 L351.35 330.22 L353.36 330.25 L355.37 330.27 L357.37 330.28 L359.38 330.27 L361.39 330.26 L363.39 330.23 L365.40 330.20 L367.41 330.15 L369.41 330.10 L371.42 330.03 L373.42 329.96 L375.43 329.88 L377.43 329.79 L379.44 329.70 L381.44 329.60 L383.45 329.49 L385.45 329.37 L387.45 329.25 L389.46 329.13 L391.46 328.99 L393.46 328.85 L395.46 328.71 L397.46 328.56 L399.46 328.40 L401.46 328.24 L403.46 328.07 L405.46 327.90 L407.46 327.73 L409.46 327.55 L411.46 327.36 L413.45 327.17 L415.45 326.97 L417.45 326.78 L419.45 326.57 L421.44 326.37 L423.44 326.16 L425.43 325.94 L427.43 325.72 L429.42 325.50 L431.42 325.28 L433.41 325.05 L435.40 324.82 L437.40 324.59 L439.39 324.35 L441.38 324.11 L443.37 323.87 L445.37 323.63 L447.36 323.39 L449.35 323.14 L451.34 322.89 L453.33 322.64 L455.32 322.39 L457.31 322.13 L459.30 321.88 L461.29 321.62 L463.28 321.37 L465.27 321.11 L467.26 320.85 L469.25 320.59 L471.24 320.33 L473.23 320.08 L475.22 319.82 L477.21 319.56 L479.20 319.30 L481.19 319.04 L483.18 318.78 L485.17 318.52 L487.16 318.26 L489.15 318.01 L491.14 317.75 L493.13 317.50 L495.12 317.24 L497.11 316.99 L499.11 316.74 L501.10 316.49 L503.09 316.24 L505.08 316.00 L507.07 315.75 L509.06 315.51 L511.06 315.27 L513.05 315.04 L515.04 314.80 L517.04 314.57 L519.03 314.35 L521.02 314.12 L523.02 313.90 L525.01 313.68 L527.01 313.47 L529.00 313.25 L531.00 313.05 L533.00 312.84 L534.99 312.64 L536.99 312.45 L538.99 312.26 L540.98 312.07 L542.98 311.89 L544.98 311.71 L546.98 311.54 L548.98 311.37 L550.98 311.21 L552.98 311.05 L554.98 310.90 L556.98 310.75 L558.99 310.61 L560.99 310.48 L562.99 310.35 L564.99 310.23 L567.00 310.11 L569.00 310.00" fill="none" stroke="#000" stroke-width="1.1" stroke-linecap="butt" stroke-linejoin="round" stroke-dasharray="7.2 5.55"/>
<g fill="none" stroke="#6e6e6e" stroke-width="1"><rect x="90.2" y="34.4" width="487.3" height="301.7"/><path d="M99.80 336.10 v-6.00 M99.80 34.40 v6.00 M123.94 336.10 v-3.40 M123.94 34.40 v3.40 M148.07 336.10 v-3.40 M148.07 34.40 v3.40 M172.20 336.10 v-3.40 M172.20 34.40 v3.40 M196.34 336.10 v-6.00 M196.34 34.40 v6.00 M220.48 336.10 v-3.40 M220.48 34.40 v3.40 M244.61 336.10 v-3.40 M244.61 34.40 v3.40 M268.75 336.10 v-3.40 M268.75 34.40 v3.40 M292.88 336.10 v-6.00 M292.88 34.40 v6.00 M317.01 336.10 v-3.40 M317.01 34.40 v3.40 M341.15 336.10 v-3.40 M341.15 34.40 v3.40 M365.29 336.10 v-3.40 M365.29 34.40 v3.40 M389.42 336.10 v-6.00 M389.42 34.40 v6.00 M413.56 336.10 v-3.40 M413.56 34.40 v3.40 M437.69 336.10 v-3.40 M437.69 34.40 v3.40 M461.83 336.10 v-3.40 M461.83 34.40 v3.40 M485.96 336.10 v-6.00 M485.96 34.40 v6.00 M510.10 336.10 v-3.40 M510.10 34.40 v3.40 M534.23 336.10 v-3.40 M534.23 34.40 v3.40 M558.37 336.10 v-3.40 M558.37 34.40 v3.40 M90.20 334.71 h3.40 M577.50 334.71 h-3.40 M90.20 325.67 h3.40 M577.50 325.67 h-3.40 M90.20 316.63 h3.40 M577.50 316.63 h-3.40 M90.20 307.59 h3.40 M577.50 307.59 h-3.40 M90.20 298.55 h6.00 M577.50 298.55 h-6.00 M90.20 289.51 h3.40 M577.50 289.51 h-3.40 M90.20 280.47 h3.40 M577.50 280.47 h-3.40 M90.20 271.43 h3.40 M577.50 271.43 h-3.40 M90.20 262.39 h3.40 M577.50 262.39 h-3.40 M90.20 253.35 h6.00 M577.50 253.35 h-6.00 M90.20 244.31 h3.40 M577.50 244.31 h-3.40 M90.20 235.27 h3.40 M577.50 235.27 h-3.40 M90.20 226.23 h3.40 M577.50 226.23 h-3.40 M90.20 217.19 h3.40 M577.50 217.19 h-3.40 M90.20 208.15 h6.00 M577.50 208.15 h-6.00 M90.20 199.11 h3.40 M577.50 199.11 h-3.40 M90.20 190.07 h3.40 M577.50 190.07 h-3.40 M90.20 181.03 h3.40 M577.50 181.03 h-3.40 M90.20 171.99 h3.40 M577.50 171.99 h-3.40 M90.20 162.95 h6.00 M577.50 162.95 h-6.00 M90.20 153.91 h3.40 M577.50 153.91 h-3.40 M90.20 144.87 h3.40 M577.50 144.87 h-3.40 M90.20 135.83 h3.40 M577.50 135.83 h-3.40 M90.20 126.79 h3.40 M577.50 126.79 h-3.40 M90.20 117.75 h6.00 M577.50 117.75 h-6.00 M90.20 108.71 h3.40 M577.50 108.71 h-3.40 M90.20 99.67 h3.40 M577.50 99.67 h-3.40 M90.20 90.63 h3.40 M577.50 90.63 h-3.40 M90.20 81.59 h3.40 M577.50 81.59 h-3.40 M90.20 72.55 h6.00 M577.50 72.55 h-6.00 M90.20 63.51 h3.40 M577.50 63.51 h-3.40 M90.20 54.47 h3.40 M577.50 54.47 h-3.40 M90.20 45.43 h3.40 M577.50 45.43 h-3.40 M90.20 36.39 h3.40 M577.50 36.39 h-3.40"/></g>
<g font-family="'Liberation Serif', serif" font-size="14" fill="#000">
<text x="84.5" y="303.4" text-anchor="end">0.0000</text>
<text x="84.5" y="258.2" text-anchor="end">0.0005</text>
<text x="84.5" y="213.1" text-anchor="end">0.0010</text>
<text x="84.5" y="167.9" text-anchor="end">0.0015</text>
<text x="84.5" y="122.7" text-anchor="end">0.0020</text>
<text x="84.5" y="77.5" text-anchor="end">0.0025</text>
<text x="99.8" y="354" text-anchor="middle">0</text>
<text x="196.3" y="354" text-anchor="middle">2</text>
<text x="292.9" y="354" text-anchor="middle">4</text>
<text x="389.4" y="354" text-anchor="middle">6</text>
<text x="486.0" y="354" text-anchor="middle">8</text>
</g>
<text font-family="'Liberation Serif', serif" font-size="25" x="334.3" y="390.8" text-anchor="middle">r</text>
<text font-family="'Liberation Serif', serif" font-size="25" transform="translate(28.3,185.5) rotate(-90)" text-anchor="middle">Δ</text>
<g font-family="'Liberation Serif', serif" font-size="20.8" fill="#000">
<text x="140.2" y="19.0" font-style="italic">δ</text>
<text x="150.6" y="22.8" font-size="14.5">1</text>
<text transform="translate(159.7,19.0) scale(1.15,1)">=</text>
<text transform="translate(174.3,19.0) scale(1.15,1)">5</text>
<text x="186.0" y="19.0">,</text>
<text x="197.0" y="19.0" font-style="italic">δ</text>
<text x="206.5" y="22.8" font-size="14.5">2</text>
<text transform="translate(216.7,19.0) scale(1.15,1)">=</text>
<text transform="translate(230.4,19.0) scale(1.15,1)">0</text>
<text x="242.8" y="19.0">.</text>
<text transform="translate(246.8,19.0) scale(1.15,1)">5</text>
<text x="264.8" y="19.0">(solid)</text>
<text x="319.8" y="19.0">,</text>
<text x="333.6" y="19.0" font-style="italic">δ</text>
<text x="344.3" y="22.8" font-size="14.5">1</text>
<text transform="translate(353.1,19.0) scale(1.15,1)">=</text>
<text transform="translate(367.8,19.0) scale(1.15,1)">5</text>
<text x="379.8" y="19.0">,</text>
<text x="389.9" y="19.0" font-style="italic">δ</text>
<text x="399.9" y="22.8" font-size="14.5">2</text>
<text transform="translate(409.8,19.0) scale(1.15,1)">=</text>
<text transform="translate(423.8,19.0) scale(1.15,1)">8</text>
<text x="436.4" y="19.0">.</text>
<text transform="translate(440.5,19.0) scale(1.15,1)">5</text>
<text x="457.8" y="19.0">(dotted</text>
<text x="519.3" y="19.0">)</text>
</g>
<rect x="362.0" y="68.5" width="12.3" height="12.3" fill="#800080" stroke="#b0a0b0" stroke-width="0.8" stroke-opacity="0.7"/>
<text font-family="'Liberation Serif', serif" font-size="20.8" x="387.7" y="80.5" textLength="71.9" lengthAdjust="spacing">Her X−I</text>
<rect x="362.0" y="100.2" width="12.3" height="12.3" fill="#ff0000" stroke="#b0a0b0" stroke-width="0.8" stroke-opacity="0.7"/>
<text font-family="'Liberation Serif', serif" font-size="20.8" x="387.7" y="111.8" textLength="81.0" lengthAdjust="spacing">Vela X−I</text>
<rect x="362.0" y="133.0" width="12.3" height="12.3" fill="#00ff00" stroke="#b0a0b0" stroke-width="0.8" stroke-opacity="0.7"/>
<text font-family="'Liberation Serif', serif" font-size="20.8" x="387.7" y="144.2" textLength="88.9" lengthAdjust="spacing">LMC X−4</text>
<rect x="362.0" y="165.7" width="12.3" height="12.3" fill="#ff8000" stroke="#b0a0b0" stroke-width="0.8" stroke-opacity="0.7"/>
<text font-family="'Liberation Serif', serif" font-size="20.8" x="387.7" y="177.3" textLength="107.3" lengthAdjust="spacing">4U 1820−30</text>
<rect x="362.0" y="198.8" width="12.3" height="12.3" fill="#000000" stroke="#b0a0b0" stroke-width="0.8" stroke-opacity="0.7"/>
<text font-family="'Liberation Serif', serif" font-size="20.8" x="387.7" y="210.0" textLength="153.2" lengthAdjust="spacing">PSR J 1614−2230</text>
</svg>
</body></html>
